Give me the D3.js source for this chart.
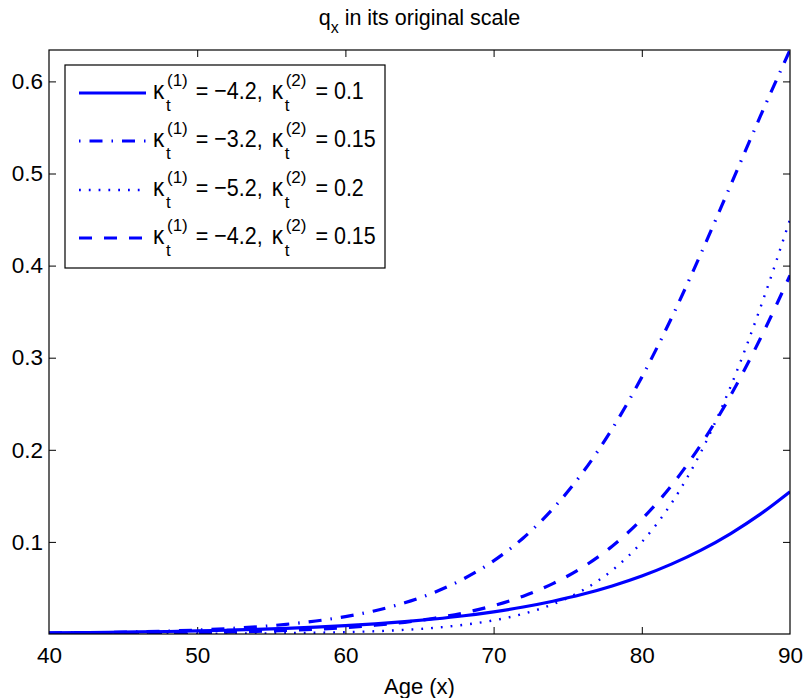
<!DOCTYPE html>
<html>
<head>
<meta charset="utf-8">
<script src="https://cdn.jsdelivr.net/npm/d3@7"></script>
<style>
  html, body { margin: 0; padding: 0; background: #fff; }
  svg text { font-family: "Liberation Sans", Arial, Helvetica, sans-serif; fill: #000; }
</style>
</head>
<body>
<svg id="chart" width="805" height="698"></svg>
<script>
// ---- data ----
const ages = [40,42,44,46,48,50,52,54,56,58,60,62,64,66,68,70,72,74,76,78,80,82,84,86,88,90];
const qSolid   = [0.0012,0.0015,0.0018,0.0022,0.0027,0.0033,0.0041,0.0050,0.0061,0.0074,0.0090,0.0110,0.0134,0.0163,0.0198,0.0241,0.0293,0.0356,0.0431,0.0522,0.0630,0.0759,0.0911,0.1091,0.1301,0.1545];
const qDashDot = [0.0010,0.0013,0.0017,0.0024,0.0032,0.0043,0.0058,0.0078,0.0105,0.0141,0.0189,0.0253,0.0339,0.0452,0.0601,0.0794,0.1043,0.1359,0.1751,0.2227,0.2789,0.3430,0.4134,0.4875,0.5622,0.6341];
const qDotted  = [0.0000,0.0001,0.0001,0.0001,0.0002,0.0003,0.0004,0.0006,0.0009,0.0014,0.0020,0.0030,0.0045,0.0067,0.0100,0.0148,0.0219,0.0323,0.0474,0.0691,0.0998,0.1419,0.1978,0.2689,0.3543,0.4502];
const qDashed  = [0.0004,0.0005,0.0006,0.0009,0.0012,0.0016,0.0021,0.0029,0.0039,0.0052,0.0070,0.0095,0.0127,0.0171,0.0230,0.0308,0.0411,0.0547,0.0724,0.0953,0.1246,0.1611,0.2059,0.2592,0.3208,0.3894];
const kappa1 = ["−4.2","−3.2","−5.2","−4.2"];
const kappa2 = ["0.1","0.15","0.2","0.15"];
const xTicks = [40,50,60,70,80,90];
const yTicks = [0.1,0.2,0.3,0.4,0.5,0.6];
const yTickLabels = ["0.1","0.2","0.3","0.4","0.5","0.6"];
const titleMain = "q";
const titleSub = "x";
const titleRest = " in its original scale";
const xLabel = "Age (x)";

// ---- styles ----
const series = [
  { values: qSolid,   dash: null,          width: 3.2 },
  { values: qDashDot, dash: "13,9,1.5,9",  width: 3.2 },
  { values: qDotted,  dash: "1.8,8",       width: 2.4 },
  { values: qDashed,  dash: "13,12",       width: 3.2 }
];
const blue = "#0000ff";

const svg = d3.select("#chart");
const L = 49, R = 790, T = 50, B = 634;

const x = d3.scaleLinear().domain([40, 90]).range([L, R]);
const yMax = d3.max([qSolid, qDashDot, qDotted, qDashed].flat());
const y = d3.scaleLinear().domain([0, yMax]).range([B, T]);

svg.append("defs").append("clipPath").attr("id", "clip")
  .append("rect").attr("x", L).attr("y", T).attr("width", R - L).attr("height", B - T);

// axes
const fs = 22;
const axB = svg.append("g").attr("transform", `translate(0,${B})`)
  .call(d3.axisBottom(x).tickValues(xTicks).tickSize(-7).tickPadding(13).tickFormat(d3.format("d")));
const axT = svg.append("g").attr("transform", `translate(0,${T})`)
  .call(d3.axisTop(x).tickValues(xTicks).tickSize(-7).tickFormat(""));
const axL = svg.append("g").attr("transform", `translate(${L},0)`)
  .call(d3.axisLeft(y).tickValues(yTicks).tickSize(-7).tickPadding(6).tickFormat((d, i) => yTickLabels[i]));
const axR = svg.append("g").attr("transform", `translate(${R},0)`)
  .call(d3.axisRight(y).tickValues(yTicks).tickSize(-7).tickFormat(""));
[axB, axT, axL, axR].forEach(g => {
  g.select(".domain").remove();
  g.selectAll(".tick line").attr("stroke", "#000").attr("stroke-width", 1);
  g.selectAll("text").attr("font-size", 22.5).attr("font-family", null).attr("fill", "#000");
});
axB.selectAll(".tick").filter(d => d === 40 || d === 90).select("line").remove();
axT.selectAll(".tick").filter(d => d === 40 || d === 90).select("line").remove();

// curves
const line = d3.line().x((d, i) => x(ages[i])).y(d => y(d)).curve(d3.curveMonotoneX);
const gLines = svg.append("g").attr("clip-path", "url(#clip)");
series.forEach(s => {
  gLines.append("path").datum(s.values)
    .attr("d", line)
    .attr("fill", "none")
    .attr("stroke", blue)
    .attr("stroke-width", s.width)
    .attr("stroke-dasharray", s.dash);
});

// box
svg.append("rect").attr("x", L).attr("y", T).attr("width", R - L).attr("height", B - T)
  .attr("fill", "none").attr("stroke", "#000").attr("stroke-width", 1.2);

// title
const title = svg.append("text").attr("x", (L + R) / 2).attr("y", 25)
  .attr("text-anchor", "middle").attr("font-size", 21.5);
title.append("tspan").text(titleMain);
title.append("tspan").attr("dy", 8).attr("font-size", 16).text(titleSub);
title.append("tspan").attr("dy", -8).text(titleRest);

// x label
svg.append("text").attr("x", (L + R) / 2).attr("y", 694)
  .attr("text-anchor", "middle").attr("font-size", fs).text(xLabel);

// legend
const lg = svg.append("g");
const legX = 65, legY = 65, legW = 320, legH = 203;
lg.append("rect").attr("x", legX).attr("y", legY).attr("width", legW).attr("height", legH)
  .attr("fill", "#fff").attr("stroke", "#000").attr("stroke-width", 1.2);
const rowY = [93, 141, 190, 238];
const lfs = 21.5, sfs = 17, stretch = 1.15;
function mainText(g, x0, base, str, size) {
  return g.append("text").attr("transform", `translate(${x0},${base}) scale(1,${stretch})`)
    .attr("font-size", size || lfs).style("white-space", "pre").text(str);
}
function drawKappa(g, x0, base, idx) {
  mainText(g, x0, base, "κ", lfs + 1);
  const cx = x0 + 14;
  const sup = g.append("text").attr("x", cx).attr("y", base - 12.5).attr("font-size", sfs).text(`(${idx})`);
  const sub = g.append("text").attr("x", cx - 1).attr("y", base + 12).attr("font-size", sfs).text("t");
  return cx + Math.max(sup.node().getComputedTextLength(), sub.node().getComputedTextLength());
}
series.forEach((s, i) => {
  const cy = rowY[i];
  lg.append("line").attr("x1", 79).attr("x2", 146).attr("y1", cy).attr("y2", cy)
    .attr("stroke", blue).attr("stroke-width", s.width).attr("stroke-dasharray", s.dash)
    .attr("stroke-dashoffset", i === 1 ? 22 : 0);
  const base = cy + 5.5;
  let cx = drawKappa(lg, 153, base, 1) + 2;
  const t1 = mainText(lg, cx, base, ` = ${kappa1[i]},`);
  cx += t1.node().getComputedTextLength() + 9;
  cx = drawKappa(lg, cx, base, 2) + 3;
  mainText(lg, cx, base, ` = ${kappa2[i]}`);
});
</script>
</body>
</html>
